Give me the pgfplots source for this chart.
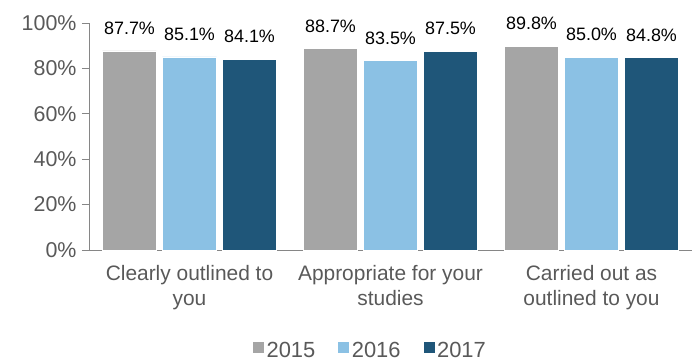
\documentclass[border=0pt]{standalone}
\usepackage{pgfplots}
\pgfplotsset{compat=1.18}
\usepackage{fontspec}
\setmainfont{Liberation Sans}
\definecolor{cgray}{HTML}{A5A5A5}
\definecolor{clight}{HTML}{8BC1E4}
\definecolor{cdark}{HTML}{1F5679}
\definecolor{ctext}{HTML}{595959}
\definecolor{caxis}{HTML}{868686}
\begin{document}
\begin{tikzpicture}
\begin{axis}[
  scale only axis,
  width=603bp, height=227bp,
  ybar=6bp, bar width=54bp,
  xmin=-0.5, xmax=2.5,
  ymin=0, ymax=100,
  axis x line*=bottom, axis y line*=left,
  axis line style={caxis, line width=0.8bp},
  xtick={0,1,2},
  xticklabels={{Clearly outlined to\\you},{Appropriate for your\\studies},{Carried out as\\outlined to you}},
  xticklabel style={align=center, font=\fontsize{21}{25}\selectfont, text=ctext, yshift=-5bp},
  major x tick style={draw=none},
  extra x ticks={-0.5,0.5,1.5},
  extra x tick labels={},
  extra x tick style={major tick length=6bp, tick align=outside, tick style={caxis, line width=0.8bp}},
  ytick={0,20,40,60,80,100},
  yticklabels={0\%,20\%,40\%,60\%,80\%,100\%},
  yticklabel style={font=\fontsize{21.5}{24}\selectfont, text=ctext, xshift=-2bp},
  y tick style={caxis, line width=0.8bp},
  tick align=outside, major tick length=7bp,
  /pgf/number format/assume math mode=true,
  nodes near coords={\pgfmathprintnumber[fixed,fixed zerofill,precision=1,assume math mode=true]{\pgfplotspointmeta}\%},
  every node near coord/.append style={font=\fontsize{18}{20}\selectfont, text=black, anchor=south, inner sep=0pt, yshift=16bp},
  legend style={at={(0.466,-0.445)}, anchor=center, draw=none, fill=none, legend columns=3,
    inner sep=1bp, font=\fontsize{22}{24}\selectfont, text=ctext,
    /tikz/every even column/.append style={column sep=20bp}},
  legend image code/.code={\fill[#1] (0bp,-2bp) rectangle (12bp,10bp);},
  clip=false,
]
\addplot[fill=cgray, draw=white, line width=0.5bp] coordinates {(0,87.7) (1,88.7) (2,89.8)};
\addplot[fill=clight, draw=white, line width=0.5bp] coordinates {(0,85.1) (1,83.5) (2,85.0)};
\addplot[fill=cdark, draw=white, line width=0.5bp] coordinates {(0,84.1) (1,87.5) (2,84.8)};
\legend{2015,2016,2017}
\end{axis}
\path (current axis.south west) ++(-89bp,-110bp) coordinate (bl);
\path (current axis.south west) ++(604bp,250bp) coordinate (tr);
\path (bl) rectangle (tr);
\end{tikzpicture}
\end{document}
